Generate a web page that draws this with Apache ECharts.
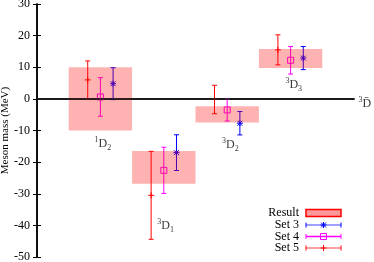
<!DOCTYPE html>
<html><head><meta charset="utf-8">
<script src="https://cdn.jsdelivr.net/npm/echarts@6/dist/echarts.min.js"></script>
<style>html,body{margin:0;padding:0;background:#fff}#c{width:374px;height:262px}</style>
</head><body><div id="c"></div>
<script>
// ---- data ----
const states = ['1D2', '3D1', '3D2', '3D3'];
const stateX = [1, 2, 3, 4];
const resultLow = [-10, -26.8, -7.5, 9.8];
const resultHigh = [10, -16.5, -2.3, 15.8];
const set3Val = [4.8, -17, -7.7, 12.9];
const set3Err = [5.05, 5.65, 3.7, 3.65];
const set4Val = [0.6, -22.6, -3.5, 12.2];
const set4Err = [6.1, 7.3, 3.5, 4.35];
const set5Val = [6, -30.5, -0.2, 15.5];
const set5Err = [6, 13.9, 4.5, 4.75];
const labelSup = ['1', '3', '3', '3'];
const labelSub = ['2', '1', '2', '3'];
const labelX = [1.04, 2.03, 3.05, 4.05];
const labelY = [-14.2, -40.2, -14.5, 4.3];
const sideLabelX = [5.17];
const sideLabelY = [-1.6];
const yMin = -50, yMax = 30, yStep = 10;
const legendNames = ['Result', 'Set 3', 'Set 4', 'Set 5'];

// ---- styling ----
const FONT = 'Liberation Serif';
const BOX_HALF = 0.5;
const CAP = 2.5;
const SYM = 3;
const C3 = '#0000ff', C4 = '#ff00ff', C5 = '#ff0000';

function symbolShapes(kind, cx, cy, color) {
  const s = { stroke: color, lineWidth: 1, fill: null };
  const L = (x1, y1, x2, y2) => ({ type: 'line', shape: { x1, y1, x2, y2 }, style: s });
  if (kind === 'star') {
    const d = SYM * 0.8;
    return [L(cx - SYM, cy, cx + SYM, cy), L(cx, cy - SYM, cx, cy + SYM),
            L(cx - d, cy - d, cx + d, cy + d), L(cx - d, cy + d, cx + d, cy - d)];
  }
  if (kind === 'square') {
    return [{ type: 'rect', shape: { x: cx - SYM, y: cy - SYM, width: 2 * SYM, height: 2 * SYM }, style: { stroke: color, lineWidth: 1, fill: null } }];
  }
  return [L(cx - SYM, cy, cx + SYM, cy), L(cx, cy - SYM, cx, cy + SYM)];
}

function errSeries(name, vals, errs, offset, color, kind) {
  return {
    type: 'custom', name, z: 3,
    data: stateX.map((x, i) => [x + offset, vals[i], vals[i] - errs[i], vals[i] + errs[i]]),
    renderItem(params, api) {
      const c = api.coord([api.value(0), api.value(1)]);
      const t = api.coord([api.value(0), api.value(3)]);
      const b = api.coord([api.value(0), api.value(2)]);
      const st = { stroke: color, lineWidth: 1 };
      const ch = [
        { type: 'line', shape: { x1: c[0], y1: t[1], x2: c[0], y2: b[1] }, style: st },
        { type: 'line', shape: { x1: c[0] - CAP, y1: t[1], x2: c[0] + CAP, y2: t[1] }, style: st },
        { type: 'line', shape: { x1: c[0] - CAP, y1: b[1], x2: c[0] + CAP, y2: b[1] }, style: st }
      ].concat(symbolShapes(kind, c[0], c[1], color));
      return { type: 'group', children: ch };
    }
  };
}

const rich = {
  sup: { fontFamily: FONT, fontSize: 8, verticalAlign: 'top', color: '#000' },
  d: { fontFamily: FONT, fontSize: 12, lineHeight: 16, verticalAlign: 'middle', color: '#000' },
  sub: { fontFamily: FONT, fontSize: 8, verticalAlign: 'bottom', color: '#000' }
};

const chart = echarts.init(document.getElementById('c'), null, { renderer: 'canvas' });

// legend drawn as graphic
const LX1 = 306, LX2 = 341, LTX = 299;
const rowsY = [213, 225, 236.5, 248];
const legendG = [];
legendNames.forEach((n, i) => {
  legendG.push({ type: 'text', x: LTX, y: rowsY[i], style: { text: n, fontFamily: FONT, fontSize: 12, fill: '#000', align: 'right', verticalAlign: 'middle' } });
});
legendG.push({ type: 'rect', shape: { x: LX1, y: rowsY[0] - 3.5, width: LX2 - LX1, height: 7 }, style: { fill: '#ff9999', stroke: '#ff0000', lineWidth: 1.5 } });
[[C3, '#8080ff', 'star'], [C4, C4, 'square'], [C5, '#ff8080', 'plus']].forEach((d, k) => {
  const y = rowsY[k + 1], mid = (LX1 + LX2) / 2;
  legendG.push({ type: 'line', shape: { x1: LX1, y1: y, x2: LX2, y2: y }, style: { stroke: d[1], lineWidth: 1.5 } });
  legendG.push({ type: 'line', shape: { x1: LX1, y1: y - CAP, x2: LX1, y2: y + CAP }, style: { stroke: d[0], lineWidth: 1 } });
  legendG.push({ type: 'line', shape: { x1: LX2, y1: y - CAP, x2: LX2, y2: y + CAP }, style: { stroke: d[0], lineWidth: 1 } });
  symbolShapes(d[2], mid, y, d[0]).forEach(s => legendG.push(s));
});

const axisLine = { show: true, lineStyle: { color: '#000', width: 1.5 } };

chart.setOption({
  animation: false,
  backgroundColor: '#fff',
  grid: { left: 37, right: 20, top: 4, bottom: 5, containLabel: false, outerBoundsMode: 'none' },
  xAxis: [
    { type: 'value', min: 0, max: 5, position: 'bottom', axisLine, axisTick: { show: false }, axisLabel: { show: false }, splitLine: { show: false } },
    { type: 'value', min: 0, max: 5, position: 'top', axisLine, axisTick: { show: false }, axisLabel: { show: false }, splitLine: { show: false } }
  ],
  yAxis: [
    { type: 'value', min: yMin, max: yMax, interval: yStep, position: 'left',
      name: 'Meson mass (MeV)', nameLocation: 'middle', nameGap: 26, nameRotate: 90, nameMoveOverlap: false,
      nameTextStyle: { fontFamily: FONT, fontSize: 11, color: '#000' },
      axisLine, axisTick: { inside: true, length: 4, lineStyle: { color: '#000' } },
      axisLabel: { fontFamily: FONT, fontSize: 12, color: '#000', margin: 7 }, splitLine: { show: false } },
    { type: 'value', min: yMin, max: yMax, interval: yStep, position: 'right',
      axisLine, axisTick: { inside: true, length: 4, lineStyle: { color: '#000' } },
      axisLabel: { show: false }, splitLine: { show: false } }
  ],
  series: [
    errSeries('Set 5', set5Val, set5Err, -0.2, C5, 'plus'),
    errSeries('Set 4', set4Val, set4Err, 0, C4, 'square'),
    errSeries('Set 3', set3Val, set3Err, 0.2, C3, 'star'),
    {
      type: 'custom', name: 'Result', z: 4,
      data: stateX.map((x, i) => [x, resultLow[i], resultHigh[i]]),
      renderItem(params, api) {
        const p1 = api.coord([api.value(0) - BOX_HALF, api.value(2)]);
        const p2 = api.coord([api.value(0) + BOX_HALF, api.value(1)]);
        return { type: 'rect', shape: { x: p1[0], y: p1[1], width: p2[0] - p1[0], height: p2[1] - p1[1] }, style: { fill: 'rgba(255,0,0,0.3)' } };
      }
    },
    {
      type: 'line', name: 'zero', data: [], z: 5,
      markLine: { silent: true, symbol: 'none', label: { show: false }, lineStyle: { color: '#222', width: 1.5, type: 'solid' }, data: [{ yAxis: 0 }] }
    },
    {
      type: 'scatter', name: 'labels', symbolSize: 0, z: 6,
      data: labelX.map((x, i) => ({ value: [x, labelY[i]], name: states[i] })),
      label: { show: true, position: 'inside', rich, formatter: p => `{sup|${labelSup[p.dataIndex]}}{d|D}{sub|${labelSub[p.dataIndex]}}` }
    },
    {
      type: 'scatter', name: 'side', symbolSize: 0, z: 6, clip: false,
      data: sideLabelX.map((x, i) => [x, sideLabelY[i]]),
      label: { show: true, position: 'inside', rich, formatter: () => '{sup|3}{d|D\u0304}' }
    }
  ],
  graphic: legendG
});
</script>
</body></html>
